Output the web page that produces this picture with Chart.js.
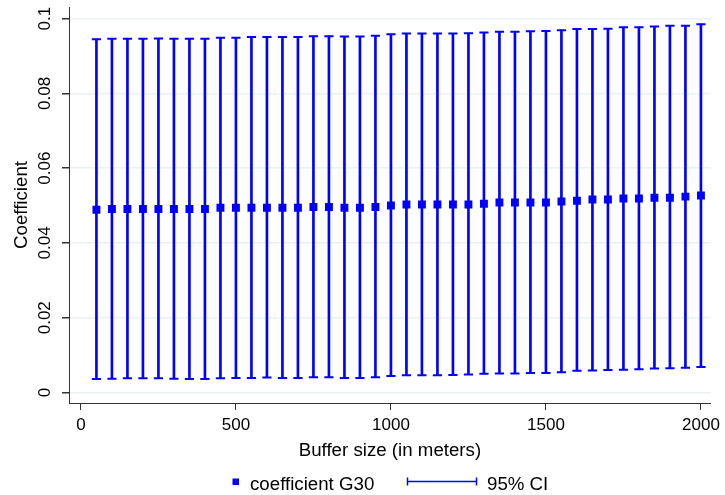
<!DOCTYPE html>
<html>
<head>
<meta charset="utf-8">
<script src="https://cdn.jsdelivr.net/npm/chart.js@4"></script>
<style>
  html, body { margin: 0; padding: 0; background: #fff; }
  #wrap { width: 725px; height: 495px; position: relative; }
</style>
</head>
<body>
<div id="wrap"><canvas id="c" width="725" height="495"></canvas></div>
<script>
const buffers = [50,100,150,200,250,300,350,400,450,500,550,600,650,700,750,800,850,900,950,1000,
                 1050,1100,1150,1200,1250,1300,1350,1400,1450,1500,1550,1600,1650,1700,1750,1800,1850,1900,1950,2000];
const coefG30 = [0.0489,0.0491,0.0491,0.0491,0.0491,0.0491,0.0491,0.0491,0.0494,0.0494,
                 0.0494,0.0494,0.0494,0.0494,0.0496,0.0496,0.0494,0.0494,0.0496,0.0500,
                 0.0503,0.0503,0.0503,0.0503,0.0503,0.0505,0.0508,0.0508,0.0508,0.0508,
                 0.0511,0.0513,0.0516,0.0516,0.0519,0.0519,0.0521,0.0521,0.0524,0.0527];
const ciUpper = [0.0945,0.0946,0.0946,0.0946,0.0947,0.0946,0.0946,0.0946,0.0949,0.0949,
                 0.0951,0.0951,0.0951,0.0951,0.0953,0.0953,0.0952,0.0952,0.0954,0.0958,
                 0.0960,0.0960,0.0960,0.0960,0.0961,0.0963,0.0965,0.0965,0.0966,0.0967,
                 0.0969,0.0972,0.0972,0.0973,0.0977,0.0977,0.0979,0.0981,0.0981,0.0985];
const ciLower = [0.0036,0.0037,0.0038,0.0038,0.0038,0.0037,0.0036,0.0036,0.0038,0.0039,
                 0.0039,0.0040,0.0039,0.0039,0.0041,0.0041,0.0039,0.0039,0.0041,0.0044,
                 0.0046,0.0046,0.0046,0.0047,0.0048,0.0050,0.0051,0.0051,0.0052,0.0052,
                 0.0054,0.0058,0.0059,0.0060,0.0061,0.0062,0.0064,0.0065,0.0066,0.0068];
const yTickValues = [0, 0.02, 0.04, 0.06, 0.08, 0.1];
const yTickLabels = ['0', '0.02', '0.04', '0.06', '0.08', '0.1'];
const xTickValues = [0, 500, 1000, 1500, 2000];
const xTickLabels = ['0', '500', '1000', '1500', '2000'];
const seriesLabels = ['coefficient G30', '95% CI'];
const xTitle = 'Buffer size (in meters)';
const yTitle = 'Coefficient';

const BLUE = 'rgb(0,0,255)';
const FONT = '"Liberation Sans", Arial, Helvetica, sans-serif';
const FS = 17;      // tick labels
const FT = 18.7;    // titles and legend

const barData = buffers.map((b, i) => ({ x: b, y: [ciLower[i], ciUpper[i]] }));
const capData = buffers.map((b, i) => ({ x: b, y: ciUpper[i] }))
  .concat(buffers.map((b, i) => ({ x: b, y: ciLower[i] })));
const pointData = buffers.map((b, i) => ({ x: b, y: coefG30[i] }));

const yLabelPlugin = {
  id: 'yLabels',
  afterDraw(chart) {
    const ctx = chart.ctx;
    const ys = chart.scales.y;
    ctx.save();
    ctx.fillStyle = '#000';
    ctx.font = FS + 'px ' + FONT;
    ctx.textAlign = 'center';
    ctx.textBaseline = 'middle';
    yTickValues.forEach((v, i) => {
      const py = ys.getPixelForValue(v);
      ctx.save();
      ctx.translate(45, py);
      ctx.rotate(-Math.PI / 2);
      ctx.fillText(yTickLabels[i], 0, 0);
      ctx.restore();
    });
    ctx.restore();
  }
};

const legendPlugin = {
  id: 'customLegend',
  afterDraw(chart) {
    const ctx = chart.ctx;
    const ds = chart.data.datasets;
    ctx.save();
    ctx.fillStyle = BLUE;
    ctx.fillRect(232.5, 478.5, 6.5, 6.5);
    ctx.strokeStyle = BLUE;
    ctx.lineWidth = 1.5;
    ctx.beginPath();
    ctx.moveTo(407, 481.5); ctx.lineTo(477, 481.5);
    ctx.moveTo(407.5, 477.5); ctx.lineTo(407.5, 485.5);
    ctx.moveTo(476.5, 477.5); ctx.lineTo(476.5, 485.5);
    ctx.stroke();
    ctx.fillStyle = '#000';
    ctx.font = FT + 'px ' + FONT;
    ctx.textAlign = 'left';
    ctx.textBaseline = 'alphabetic';
    ctx.fillText(ds[2].label, 250, 490);
    ctx.fillText(ds[0].label, 487, 490);
    ctx.restore();
  }
};

new Chart(document.getElementById('c'), {
  type: 'scatter',
  data: {
    datasets: [
      {
        type: 'bar',
        label: seriesLabels[1],
        data: barData,
        backgroundColor: BLUE,
        borderWidth: 0,
        barThickness: 2,
        order: 2
      },
      {
        type: 'scatter',
        label: 'caps',
        data: capData,
        pointStyle: 'line',
        pointRadius: 4.6,
        borderColor: BLUE,
        borderWidth: 2,
        showLine: false,
        order: 1
      },
      {
        type: 'scatter',
        label: seriesLabels[0],
        data: pointData,
        pointStyle: 'rect',
        pointRadius: 5.6,
        backgroundColor: BLUE,
        borderColor: BLUE,
        borderWidth: 0,
        showLine: false,
        order: 0
      }
    ]
  },
  options: {
    responsive: false,
    animation: false,
    events: [],
    layout: { padding: { top: 7, right: 10, bottom: 25, left: 0 } },
    plugins: {
      legend: { display: false },
      tooltip: { enabled: false }
    },
    scales: {
      x: {
        type: 'linear',
        position: 'bottom',
        min: -38.5,
        max: 2032,
        offset: false,
        afterBuildTicks(scale) {
          scale.ticks = xTickValues.map(v => ({ value: v }));
        },
        afterFit(scale) { scale.height = 67; },
        ticks: {
          callback: (v) => { const i = xTickValues.indexOf(v); return i >= 0 ? xTickLabels[i] : ''; },
          color: '#000',
          font: { family: FONT, size: FS },
          padding: 5,
          maxRotation: 0,
          minRotation: 0
        },
        grid: { offset: false, drawOnChartArea: false, tickColor: '#333', tickLength: 7, lineWidth: 1 },
        border: { display: true, color: '#333', width: 1 },
        title: {
          display: true,
          text: xTitle,
          color: '#000',
          font: { family: FONT, size: FT },
          padding: { top: 0, bottom: 8.3 }
        }
      },
      y: {
        type: 'linear',
        position: 'left',
        min: -0.0028,
        max: 0.1031,
        afterBuildTicks(scale) {
          scale.ticks = yTickValues.map(v => ({ value: v }));
        },
        afterFit(scale) { scale.width = 69; },
        ticks: { display: false },
        grid: { offset: false, color: '#eaf1f3', lineWidth: 1.5, tickColor: '#333', tickLength: 7 },
        border: { display: true, color: '#333', width: 1 },
        title: {
          display: true,
          text: yTitle,
          color: '#000',
          font: { family: FONT, size: FT },
          padding: { top: 10.3, bottom: 0 }
        }
      }
    }
  },
  plugins: [yLabelPlugin, legendPlugin]
});
</script>
</body>
</html>
